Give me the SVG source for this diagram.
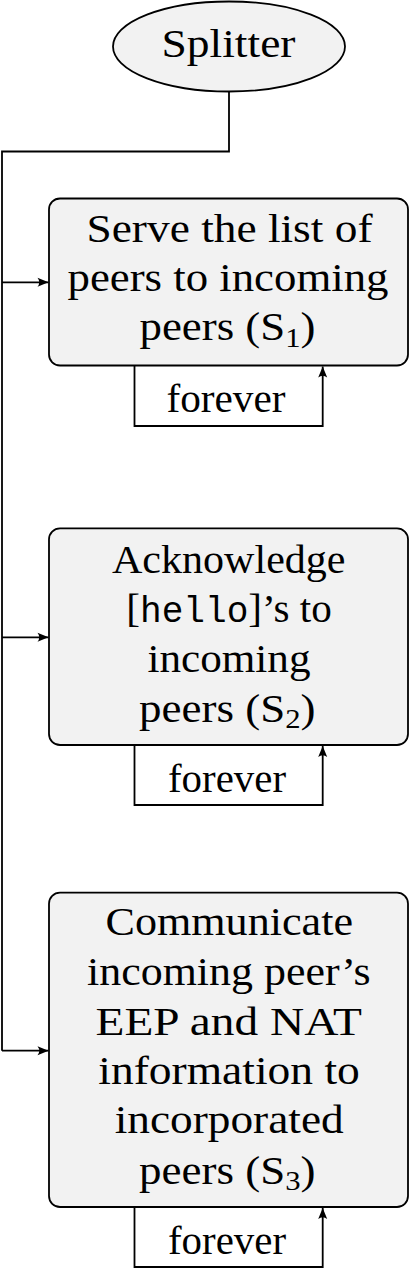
<svg xmlns="http://www.w3.org/2000/svg" width="409" height="1269" viewBox="0 0 409 1269">
<style>
.node{fill:#f2f2f2;stroke:#000;stroke-width:1.8}
.t{font-family:"Liberation Serif","Times New Roman",serif;font-size:41px;fill:#000}
.tt{font-family:"Liberation Mono","Courier New",monospace;font-size:36px}
.sub{font-size:28px}
.c{fill:none;stroke:#000;stroke-width:1.8}
</style>
<defs>
<marker id="ah" markerUnits="userSpaceOnUse" markerWidth="14" markerHeight="12" viewBox="-12 -6 14 12" refX="0" refY="0" orient="auto">
<path d="M0,0 L-11,-4.5 Q-7.5,0 -11,4.5 Z" fill="#000"/>
</marker>
</defs>
<rect width="409" height="1269" fill="#fff"/>
<g id="connectors">
<path class="c" d="M229,91.5 V151.5 H2 V1050.7"/>
<path class="c" d="M2,282.3 H48.5" marker-end="url(#ah)"/>
<path class="c" d="M2,637.3 H48.5" marker-end="url(#ah)"/>
<path class="c" d="M2,1050.7 H48.5" marker-end="url(#ah)"/>
<path class="c" d="M134.5,365.5 V426 H322.7 V366.5" marker-end="url(#ah)"/>
<path class="c" d="M134.5,745 V805 H322.7 V746" marker-end="url(#ah)"/>
<path class="c" d="M134.5,1207 V1267 H322.7 V1208" marker-end="url(#ah)"/>
</g>
<g id="splitter">
<ellipse class="node" cx="229" cy="46.5" rx="116" ry="45"/>
<text class="t" x="161.5" y="56.7" textLength="134" lengthAdjust="spacingAndGlyphs">Splitter</text>
</g>
<g id="s1">
<rect class="node" x="49" y="198.5" width="359" height="167" rx="11"/>
<text class="t" x="86.5" y="242" textLength="286" lengthAdjust="spacingAndGlyphs">Serve the list of</text>
<text class="t" x="67.5" y="291" textLength="321" lengthAdjust="spacingAndGlyphs">peers to incoming</text>
<text class="t" x="139.5" y="340" textLength="176" lengthAdjust="spacingAndGlyphs">peers (S<tspan class="sub" dy="6.5">1</tspan><tspan dy="-6.5">)</tspan></text>
</g>
<g id="s1-loop-label">
<text class="t" x="166.5" y="411.5" textLength="119" lengthAdjust="spacingAndGlyphs">forever</text>
</g>
<g id="s2">
<rect class="node" x="49" y="528.3" width="359" height="216.7" rx="11"/>
<text class="t" x="112" y="572.5" textLength="233.5" lengthAdjust="spacingAndGlyphs">Acknowledge</text>
<text class="t" x="126.3" y="621.7" textLength="205.5" lengthAdjust="spacingAndGlyphs">[<tspan class="tt">hello</tspan>]’s to</text>
<text class="t" x="147.5" y="671.7" textLength="163" lengthAdjust="spacingAndGlyphs">incoming</text>
<text class="t" x="139" y="721.7" textLength="176.5" lengthAdjust="spacingAndGlyphs">peers (S<tspan class="sub" dy="6.5">2</tspan><tspan dy="-6.5">)</tspan></text>
</g>
<g id="s2-loop-label">
<text class="t" x="168" y="791.7" textLength="118" lengthAdjust="spacingAndGlyphs">forever</text>
</g>
<g id="s3">
<rect class="node" x="49" y="892.7" width="359" height="314.3" rx="11"/>
<text class="t" x="105.5" y="935" textLength="247.5" lengthAdjust="spacingAndGlyphs">Communicate</text>
<text class="t" x="87" y="984.5" textLength="283.5" lengthAdjust="spacingAndGlyphs">incoming peer’s</text>
<text class="t" x="95.5" y="1034.5" textLength="266.5" lengthAdjust="spacingAndGlyphs">EEP and NAT</text>
<text class="t" x="98.3" y="1084" textLength="261.5" lengthAdjust="spacingAndGlyphs">information to</text>
<text class="t" x="114.7" y="1133.3" textLength="229" lengthAdjust="spacingAndGlyphs">incorporated</text>
<text class="t" x="139" y="1183.5" textLength="176.5" lengthAdjust="spacingAndGlyphs">peers (S<tspan class="sub" dy="6.5">3</tspan><tspan dy="-6.5">)</tspan></text>
</g>
<g id="s3-loop-label">
<text class="t" x="168" y="1254" textLength="118" lengthAdjust="spacingAndGlyphs">forever</text>
</g>
</svg>
